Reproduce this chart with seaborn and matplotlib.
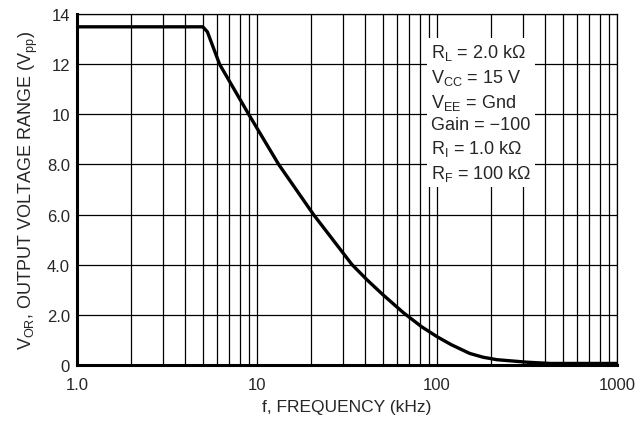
import numpy as np
import pandas as pd
import matplotlib
matplotlib.use('Agg')
import matplotlib.pyplot as plt
import seaborn as sns
from matplotlib.ticker import FixedLocator, NullFormatter

sns.set_style('white')
plt.rcParams['font.family'] = ['Liberation Sans', 'DejaVu Sans']
plt.rcParams['mathtext.fontset'] = 'custom'
plt.rcParams['mathtext.rm'] = 'Liberation Sans'
plt.rcParams['mathtext.it'] = 'Liberation Sans'

# output voltage range vs frequency
freq_khz = [1.0, 5.0, 5.3, 6.2, 9.0, 13.2, 20.6, 33.7, 41, 50, 65, 82, 100,
            120, 152, 180, 215, 316, 424, 1000]
v_or = [13.5, 13.5, 13.3, 12.0, 10.0, 8.0, 6.0, 4.0, 3.38, 2.8, 2.08, 1.52, 1.12,
        0.8, 0.45, 0.3, 0.2, 0.1, 0.05, 0.05]

y_ticks = [0, 2, 4, 6, 8, 10, 12, 14]
y_labels = ['0', '2.0', '4.0', '6.0', '8.0', '10', '12', '14']
x_ticks = [1, 10, 100, 1000]
x_labels = ['1.0', '10', '100', '1000']

conditions = [r'$\mathregular{R_L}$ = 2.0 k$\mathregular{\Omega}$',
              r'$\mathregular{V_{CC}}$ = 15 V',
              r'$\mathregular{V_{EE}}$ = Gnd',
              'Gain = \u2212100',
              r'$\mathregular{R_I}$ = 1.0 k$\mathregular{\Omega}$',
              r'$\mathregular{R_F}$ = 100 k$\mathregular{\Omega}$']

df = pd.DataFrame({'f': freq_khz, 'v': v_or})

fig = plt.figure(figsize=(6.44, 4.27), dpi=100)
ax = fig.add_axes([77 / 644, 1 - 365.7 / 427, 540 / 644, 350.4 / 427])

sns.lineplot(data=df, x='f', y='v', ax=ax, color='black', lw=2.4, zorder=5)

ax.set_xscale('log')
ax.set_xlim(1, 1000)
ax.set_ylim(0, 14)

minors = [m * d for d in [1, 10, 100] for m in range(2, 10)]
ax.xaxis.set_minor_locator(FixedLocator(minors))
ax.xaxis.set_minor_formatter(NullFormatter())
ax.set_xticks(x_ticks, x_labels)
ax.set_yticks(y_ticks, y_labels)
ax.grid(True, which='both', axis='x', color='black', lw=0.9)
ax.grid(True, which='major', axis='y', color='black', lw=0.9)
ax.tick_params(axis='both', which='both', length=0, labelsize=12)
ax.tick_params(axis='x', pad=9)
ax.tick_params(axis='y', pad=5)

for side in ['left', 'bottom']:
    ax.spines[side].set_linewidth(2.2)
    ax.spines[side].set_color('black')
for side in ['top', 'right']:
    ax.spines[side].set_linewidth(0.9)
    ax.spines[side].set_color('black')

ax.set_xlabel('f, FREQUENCY (kHz)', fontsize=12.5, labelpad=5)
ax.set_ylabel(r'$\mathregular{V_{OR}}$, OUTPUT VOLTAGE RANGE ($\mathregular{V_{pp}}$)', fontsize=13, labelpad=5)

# white panel holding the test conditions
ax.text(0.655, 0.92, '\n'.join(conditions), transform=ax.transAxes, fontsize=13,
        va='top', ha='left', linespacing=1.32, zorder=6,
        bbox=dict(facecolor='white', edgecolor='none', pad=3))

fig.savefig('out.png', dpi=100)
